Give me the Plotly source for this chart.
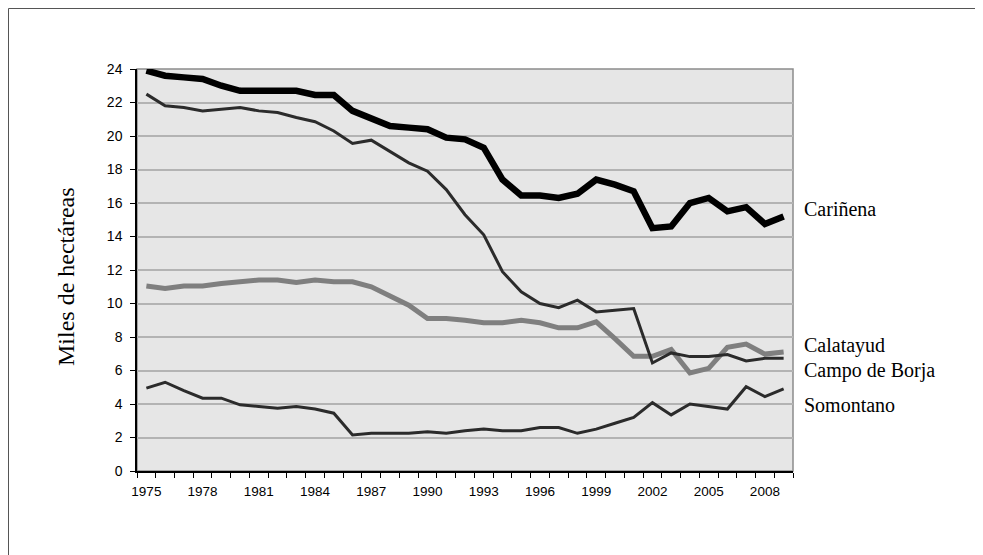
import plotly.graph_objects as go

years = list(range(1975, 2010))
carinena = [23.9, 23.6, 23.5, 23.4, 23.0, 22.7, 22.7, 22.7, 22.7, 22.45, 22.45, 21.5, 21.1, 20.6, 20.5,
            20.4, 19.9, 19.8, 19.3, 17.4, 16.45, 16.45, 16.3, 16.55, 17.4, 17.1, 16.7, 14.5, 14.6, 16.0,
            16.3, 15.5, 15.75, 14.75, 15.2]
campo_borja = [22.5, 21.8, 21.7, 21.5, 21.6, 21.7, 21.5, 21.4, 21.1, 20.85, 20.3, 19.55, 19.75, 19.1, 18.4,
               17.9, 16.8, 15.3, 14.1, 11.9, 10.7, 10.0, 9.75, 10.2, 9.5, 9.6, 9.7, 6.45, 7.05, 6.83,
               6.83, 6.95, 6.57, 6.73, 6.73]
calatayud = [11.05, 10.9, 11.05, 11.05, 11.2, 11.3, 11.4, 11.4, 11.25, 11.4, 11.3, 11.3, 11.0, 10.45, 9.9,
             9.1, 9.1, 9.0, 8.85, 8.85, 9.0, 8.85, 8.55, 8.55, 8.9, 7.9, 6.85, 6.85, 7.25, 5.85,
             6.13, 7.38, 7.58, 6.98, 7.1]
somontano = [4.95, 5.3, 4.8, 4.35, 4.35, 3.95, 3.85, 3.75, 3.85, 3.7, 3.45, 2.15, 2.25, 2.25, 2.25,
             2.35, 2.25, 2.4, 2.5, 2.4, 2.4, 2.6, 2.6, 2.25, 2.5, 2.85, 3.2, 4.08, 3.35, 4.0,
             3.84, 3.7, 5.03, 4.44, 4.9]
x_tick_labels = [str(y) for y in range(1975, 2010, 3)]
y_ticks = list(range(0, 25, 2))

fig = go.Figure()
fig.add_trace(go.Scatter(x=years, y=somontano, mode="lines", line=dict(color="#2b2b2b", width=3), name="Somontano"))
fig.add_trace(go.Scatter(x=years, y=calatayud, mode="lines", line=dict(color="#7f7f7f", width=5), name="Calatayud"))
fig.add_trace(go.Scatter(x=years, y=campo_borja, mode="lines", line=dict(color="#2b2b2b", width=3), name="Campo de Borja"))
fig.add_trace(go.Scatter(x=years, y=carinena, mode="lines", line=dict(color="#000000", width=6.5), name="Cariñena"))

# figure is placed at (8, 8) on the page
OFF = 8
W, H = 983, 555
L, T = 137 - OFF, 69 - OFF
R = W - (793 - OFF)
B = H - (471 - OFF)
pw, ph = W - L - R, H - T - B

def px_x(p):  # page px -> paper
    return (p - OFF - L) / pw

def px_y(p):
    return (H - B - (p - OFF)) / ph

shapes = [
    dict(type="rect", xref="paper", yref="paper", x0=0, x1=1, y0=0, y1=1,
         line=dict(color="#8c8c8c", width=1.5), fillcolor="#e6e6e6", layer="below"),
    dict(type="rect", xref="paper", yref="paper", x0=px_x(OFF + 0.5), x1=px_x(OFF + W - 0.5),
         y0=px_y(OFF + H - 0.5), y1=px_y(OFF + 0.5),
         line=dict(color="#555555", width=1), layer="below"),
]

labels = [("Cariñena", 209), ("Calatayud", 345), ("Campo de Borja", 370), ("Somontano", 405)]
annotations = [dict(x=px_x(802), y=px_y(yy), xref="paper", yref="paper", text=t, showarrow=False,
                    xanchor="left", yanchor="middle",
                    font=dict(family="Liberation Serif", size=20, color="#000"))
               for t, yy in labels]
annotations.append(dict(x=px_x(66), y=px_y(277), xref="paper", yref="paper", text="Miles de hectáreas",
                        showarrow=False, textangle=-90, xanchor="center", yanchor="middle",
                        font=dict(family="Liberation Serif", size=24, color="#000")))

fig.update_layout(
    width=W, height=H,
    margin=dict(l=L, r=R, t=T, b=B),
    paper_bgcolor="white", plot_bgcolor="#e6e6e6",
    showlegend=False,
    shapes=shapes, annotations=annotations,
    font=dict(family="Liberation Sans", size=13, color="#000"),
)
fig.update_xaxes(
    range=[1974.5, 2009.5], tickmode="array", tickvals=[int(v) for v in x_tick_labels], ticktext=x_tick_labels,
    ticks="", showgrid=False, showline=True, linecolor="#000", linewidth=1.5, zeroline=False,
    tickfont=dict(size=13.5), ticklabelstandoff=7,
    minor=dict(tickmode="linear", tick0=1974.5, dtick=1, ticks="outside", ticklen=5, tickcolor="#000", showgrid=False),
)
fig.update_yaxes(
    range=[0, 24], tickmode="array", tickvals=y_ticks, ticks="outside", ticklen=5, tickcolor="#000",
    showgrid=True, gridcolor="#b3b3b3", gridwidth=2, showline=True, linecolor="#000", linewidth=1.5,
    zeroline=False, tickfont=dict(size=14), ticklabelstandoff=5,
)
fig.write_html("out.html")
